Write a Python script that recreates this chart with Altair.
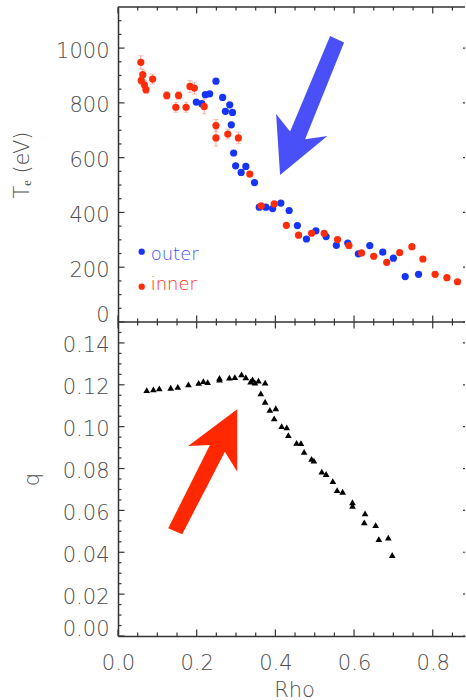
import altair as alt
import pandas as pd

# ---------------- data ----------------
series = ["outer", "inner"]

outer_rho = [0.199, 0.213, 0.222, 0.233, 0.249, 0.266, 0.273, 0.284, 0.291, 0.288,
             0.294, 0.299, 0.313, 0.325, 0.347, 0.359, 0.376, 0.393, 0.414, 0.435,
             0.456, 0.479, 0.503, 0.529, 0.555, 0.584, 0.611, 0.640, 0.673, 0.700,
             0.730, 0.764]
outer_te = [803, 797, 830, 833, 879, 820, 769, 793, 765, 720,
            617, 570, 546, 568, 509, 419, 419, 414, 434, 407,
            352, 303, 333, 312, 280, 288, 249, 279, 255, 233,
            166, 174]

inner_rho = [0.058, 0.063, 0.059, 0.067, 0.071, 0.088, 0.124, 0.154, 0.147, 0.173,
             0.183, 0.194, 0.219, 0.249, 0.249, 0.279, 0.306, 0.335, 0.364, 0.397,
             0.428, 0.459, 0.492, 0.524, 0.558, 0.587, 0.619, 0.650, 0.683, 0.716,
             0.747, 0.775, 0.806, 0.836, 0.863, 0.891]
inner_te = [948, 903, 882, 866, 848, 887, 827, 827, 784, 784,
            860, 854, 787, 717, 672, 686, 672, 540, 424, 431,
            353, 317, 324, 324, 301, 279, 252, 240, 218, 253,
            275, 230, 174, 162, 147, 84]
inner_err = [24, 18, 15, 16, 14, 18, 14, 14, 18, 18,
             22, 22, 27, 22, 30, 18, 21, 8, 0, 0,
             0, 0, 0, 0, 0, 0, 0, 0, 0, 0,
             0, 0, 0, 0, 0, 0]

q_rho = [0.073, 0.090, 0.105, 0.134, 0.152, 0.179, 0.205, 0.217, 0.228, 0.258,
         0.258, 0.283, 0.297, 0.314, 0.325, 0.337, 0.342, 0.348, 0.357, 0.374,
         0.363, 0.374, 0.386, 0.401, 0.397, 0.416, 0.429, 0.433, 0.454, 0.465,
         0.473, 0.492, 0.498, 0.518, 0.529, 0.546, 0.557, 0.571, 0.596, 0.596,
         0.628, 0.626, 0.655, 0.663, 0.687, 0.697]
q_val = [0.1175, 0.1178, 0.1183, 0.1186, 0.1190, 0.1202, 0.1209, 0.1218, 0.1213, 0.1233,
         0.1225, 0.1234, 0.1237, 0.1250, 0.1236, 0.1215, 0.1226, 0.1210, 0.1220, 0.1210,
         0.1159, 0.1119, 0.1080, 0.1088, 0.1040, 0.1003, 0.0997, 0.0960, 0.0923, 0.0921,
         0.0880, 0.0846, 0.0838, 0.0785, 0.0774, 0.0740, 0.0697, 0.0689, 0.0639, 0.0622,
         0.0586, 0.0543, 0.0530, 0.0463, 0.0470, 0.0387]

# arrow tips (annotation anchors, in data units)
blue_arrow_rho = [0.412]
blue_arrow_te = [537]
red_arrow_rho = [0.303]
red_arrow_q = [0.1083]

# tick values / labels
x_major = [0.0, 0.2, 0.4, 0.6, 0.8]
x_minor = [0.05, 0.1, 0.15, 0.25, 0.3, 0.35, 0.45, 0.5, 0.55, 0.65, 0.7, 0.75, 0.85]
te_major = [0, 200, 400, 600, 800, 1000]
te_minor = [50, 100, 150, 250, 300, 350, 450, 500, 550, 650, 700, 750, 850, 900, 950,
            1050, 1100]
q_major = [0.0, 0.02, 0.04, 0.06, 0.08, 0.10, 0.12, 0.14]
q_minor = [0.005, 0.01, 0.015, 0.025, 0.03, 0.035, 0.045, 0.05, 0.055, 0.065, 0.07,
           0.075, 0.085, 0.09, 0.095, 0.105, 0.11, 0.115, 0.125, 0.13, 0.135, 0.145]

# ---------------- styling ----------------
W = 347
H_TOP = 315
H_BOT = 314
FONT = "DejaVu Sans"
FW = 200
GREY = "#4f4f4f"
AXC = "#333333"
BLUE = "#1634f4"
RED = "#ff2c0a"
ARROW_BLUE = "#4a50f7"
ARROW_RED = "#ff2800"
ERR = "#f4a29c"
MAJ, MIN = 6.5, 3.5

BLUE_ARROW = "M0,0 L-4,-61 L10,-43.3 L50,-139 L64,-132.3 L25,-35.7 L47.3,-39 Z"
RED_ARROW = "M0,0 L0,62.4 L-12.3,42.4 L-55,125 L-69,119 L-27.3,35.7 L-49,36.7 Z"

x_scale = alt.Scale(domain=[0, 0.882], nice=False, zero=False)
te_scale = alt.Scale(domain=[0, 1150], nice=False)
q_scale = alt.Scale(domain=[0, 0.15], nice=False)


def y_axis(values, fmt, title, title_x):
    return alt.Axis(values=values, format=fmt, labelFont=FONT, labelFontSize=21,
                    labelFontWeight=FW,
                    labelColor=GREY, labelPadding=9, labelOffset=3, labelFlush=True,
                    labelOverlap=False, ticks=False, tickSize=0, domain=True,
                    domainColor=AXC, domainWidth=1.5, grid=False, title=title,
                    titleFont=FONT, titleFontSize=21, titleFontWeight=FW,
                    titleColor=GREY, titleX=title_x, titleBaseline="alphabetic")


te_axis = y_axis(te_major, "d", "T\u2091 (eV)", -90)
q_axis = y_axis(q_major, ".2f", "q", -79.5)
x_axis = alt.Axis(values=x_major, format=".1f", labelFont=FONT, labelFontSize=21,
                  labelFontWeight=FW,
                  labelColor=GREY, labelPadding=16, labelFlush=False, labelOverlap=False,
                  ticks=False, tickSize=0, domain=True, domainColor=AXC, domainWidth=1.5,
                  grid=False, title="Rho", titleFont=FONT, titleFontSize=21,
                  titleFontWeight=FW, titleColor=GREY, titleX=176, titleY=60,
                  titleAlign="center", titleBaseline="alphabetic")

one = pd.DataFrame({"a": [0]})


def frame_layers(height, yfield_scale, yax, xax, y_maj, y_min):
    layers = []
    X = alt.X("v:Q", scale=x_scale, axis=xax)
    Y = alt.Y("v:Q", scale=yfield_scale, axis=yax)
    rule = dict(color=AXC, strokeWidth=1.2)
    for vals, L in ((x_major, MAJ), (x_minor, MIN)):
        df = pd.DataFrame({"v": vals})
        layers.append(alt.Chart(df).mark_rule(**rule).encode(
            x=X, y=alt.value(0), y2=alt.value(L)))
        layers.append(alt.Chart(df).mark_rule(**rule).encode(
            x=X, y=alt.value(height), y2=alt.value(height - L)))
    for vals, L in ((y_maj, MAJ), (y_min, MIN)):
        df = pd.DataFrame({"v": vals})
        layers.append(alt.Chart(df).mark_rule(**rule).encode(
            y=Y, x=alt.value(0), x2=alt.value(L)))
    layers.append(alt.Chart(pd.DataFrame({"v": y_maj})).mark_rule(**rule).encode(
        y=Y, x=alt.value(W), x2=alt.value(W - 2)))
    layers.append(alt.Chart(one).mark_rule(color=AXC, strokeWidth=1.5).encode(
        x=alt.value(0), x2=alt.value(W), y=alt.value(0)))
    return layers


# ---------------- top panel ----------------
outer_df = pd.DataFrame({"rho": outer_rho, "te": outer_te})
inner_df = pd.DataFrame({"rho": inner_rho, "te": inner_te, "err": inner_err})
inner_df["lo"] = inner_df["te"] - inner_df["err"]
inner_df["hi"] = inner_df["te"] + inner_df["err"]
err_df = inner_df[inner_df["err"] > 0]

XT = alt.X("rho:Q", scale=x_scale, axis=None)
err_bars = alt.Chart(err_df).mark_rule(color=ERR, strokeWidth=1, clip=True).encode(
    x=XT, y=alt.Y("lo:Q", scale=te_scale, axis=te_axis), y2="hi:Q")
cap_lo = alt.Chart(err_df).mark_tick(color=ERR, orient="horizontal", size=5,
                                     thickness=1, clip=True).encode(
    x=XT, y=alt.Y("lo:Q", scale=te_scale, axis=te_axis))
cap_hi = alt.Chart(err_df).mark_tick(color=ERR, orient="horizontal", size=5,
                                     thickness=1, clip=True).encode(
    x=XT, y=alt.Y("hi:Q", scale=te_scale, axis=te_axis))
blue_pts = alt.Chart(outer_df).mark_circle(size=52, color=BLUE, opacity=1,
                                           clip=True).encode(
    x=XT, y=alt.Y("te:Q", scale=te_scale, axis=te_axis))
red_pts = alt.Chart(inner_df).mark_circle(size=52, color=RED, opacity=1,
                                          clip=True).encode(
    x=XT, y=alt.Y("te:Q", scale=te_scale, axis=te_axis))

leg_dot_o = alt.Chart(one).mark_circle(size=40, color=BLUE, opacity=1).encode(
    x=alt.value(23.7), y=alt.value(244.7))
leg_dot_i = alt.Chart(one).mark_circle(size=40, color=RED, opacity=1).encode(
    x=alt.value(23.7), y=alt.value(279.7))
leg_txt_o = alt.Chart(one).mark_text(font=FONT, fontSize=18, fontWeight=FW,
                                     color="#4050ff",
                                     align="left", baseline="alphabetic").encode(
    x=alt.value(32.7), y=alt.value(253), text=alt.value(series[0]))
leg_txt_i = alt.Chart(one).mark_text(font=FONT, fontSize=18, fontWeight=FW,
                                     color="#ff2c10",
                                     align="left", baseline="alphabetic").encode(
    x=alt.value(32.7), y=alt.value(283), text=alt.value(series[1]))

blue_arrow = alt.Chart(pd.DataFrame({"rho": blue_arrow_rho, "te": blue_arrow_te})).mark_point(
    shape=BLUE_ARROW, size=4, filled=True, opacity=1, color=ARROW_BLUE, strokeWidth=0).encode(
    x=XT, y=alt.Y("te:Q", scale=te_scale, axis=te_axis))

top = alt.layer(
    *frame_layers(H_TOP, te_scale, te_axis, None, te_major, te_minor),
    err_bars, cap_lo, cap_hi, blue_pts, red_pts,
    leg_dot_o, leg_dot_i, leg_txt_o, leg_txt_i, blue_arrow,
).properties(width=W, height=H_TOP)

# ---------------- bottom panel ----------------
q_df = pd.DataFrame({"rho": q_rho, "q": q_val})
XB = alt.X("rho:Q", scale=x_scale, axis=x_axis)
tri = alt.Chart(q_df).mark_point(shape="triangle-up", size=45, filled=True, opacity=1,
                                 color="black").encode(
    x=XB, y=alt.Y("q:Q", scale=q_scale, axis=q_axis))
red_arrow = alt.Chart(pd.DataFrame({"rho": red_arrow_rho, "q": red_arrow_q})).mark_point(
    shape=RED_ARROW, size=4, filled=True, opacity=1, color=ARROW_RED, strokeWidth=0).encode(
    x=XB, y=alt.Y("q:Q", scale=q_scale, axis=q_axis))

bottom = alt.layer(
    *frame_layers(H_BOT, q_scale, q_axis, x_axis, q_major, q_minor),
    tri, red_arrow,
).properties(width=W, height=H_BOT)

chart = alt.vconcat(top, bottom, spacing=0, bounds="flush").properties(
    padding={"left": 11, "top": 6, "right": 0, "bottom": 0}
).configure_view(stroke=None)

chart.save("out.html", embed_options={"renderer": "svg", "actions": False})
